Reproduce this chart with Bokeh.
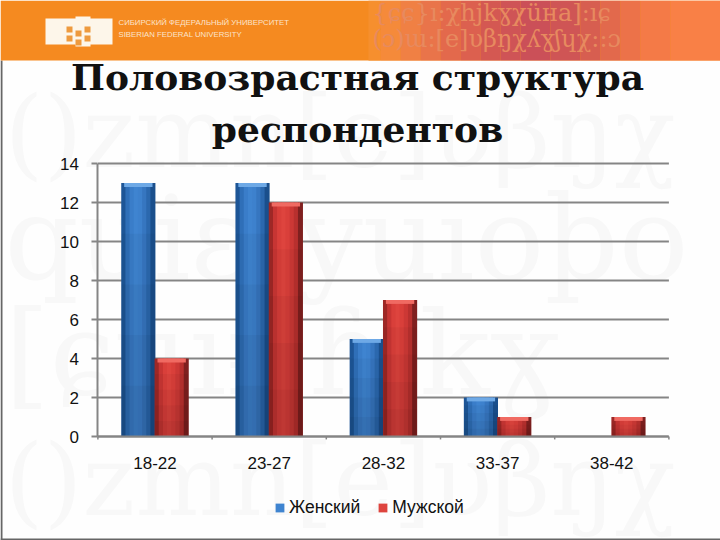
from bokeh.plotting import figure
from bokeh.models import ColumnDataSource, Label, BoxAnnotation, FixedTicker, Legend, LegendItem, Range1d, LinearAxis
from bokeh.transform import dodge
from bokeh.embed import file_html
from bokeh.resources import INLINE

categories = ["18-22", "23-27", "28-32", "33-37", "38-42"]
female = [13, 13, 5, 2, 0]
male = [4, 12, 7, 1, 1]
y_ticks = [0, 2, 4, 6, 8, 10, 12, 14]
title_lines = ["Половозрастная структура", "респондентов"]
series_names = ["Женский", "Мужской"]

W, H = 720, 540
PX_X, PX_Y = 114.2, 19.5     # pixels per category / per unit
X0, Y0 = 154.5, 436.0        # figure pixel of first category centre / of value 0
positions = list(range(len(categories)))

p = figure(width=W, height=H, x_range=Range1d(-X0 / PX_X, (W - X0) / PX_X),
           y_range=Range1d(-(H - Y0) / PX_Y, Y0 / PX_Y), output_backend="svg", toolbar_location=None,
           x_axis_type=None, y_axis_type=None,
           min_border_left=0, min_border_right=0, min_border_top=0, min_border_bottom=0)
p.outline_line_color = None
p.background_fill_color = "#fefefe"
p.border_fill_color = "white"
p.xgrid.visible = False
p.ygrid.visible = False


def lab(x, y, text, **kw):
    p.add_layout(Label(x=x, y=H - y, x_units="screen", y_units="screen", text=text, **kw))


def box(a, b, t, bt, c):
    p.add_layout(BoxAnnotation(left=a, right=b, top=H - t, bottom=H - bt, left_units="screen", right_units="screen",
                               top_units="screen", bottom_units="screen", fill_color=c, fill_alpha=1,
                               line_color=None, level="underlay"))


# watermark
for x, y, t, sz in [(4, 190, "()zmn[e]υβŋχ", 100), (4, 305, "quiɛtyuıoþo", 116),
                    (4, 420, "[ɕɥıɨ]ɦjkɣ", 116), (4, 538, "()zmn[e]υβŋχ", 100)]:
    lab(x, y, t, text_font="DejaVu Serif", text_font_size=f"{sz}px", text_color="#f8f8f8", level="underlay")

# frame edge of the slide
box(0, 2, 60, 540, "#666666")
box(0, 720, 538, 540, "#666666")

# banner
box(0, W, 0, 60, "#f58a20")
steps = [(368, 380, "#f68f2e"), (380, 400, "#f58a3a"), (400, 420, "#f08044"), (420, 440, "#e9744a"),
         (440, 460, "#e3694c"), (460, 480, "#dc604f"), (480, 500, "#d45852"), (500, 520, "#cf5456"),
         (520, 550, "#cb5058"), (550, 580, "#cf5555"), (580, 600, "#d75e50"), (600, 620, "#e2694c"),
         (620, 640, "#ec7249"), (640, 670, "#f47a47"), (670, 720, "#f98046")]
for a, b, c in steps:
    box(a, b, 0, 60, c)
lab(372, 26, "{ɕɕ}ı:χhjkɣχüнa]:ıɕ", text_font="DejaVu Serif", text_font_size="24px", text_color="#e78a5f", level="underlay")
lab(372, 52, "(ɔ)ɯ:[e]υβŋχʎɣʃɥχ::ɔ", text_font="DejaVu Serif", text_font_size="24px", text_color="#e78a5f", level="underlay")

# logo: book shape with dots
box(45, 112, 18, 44, "#fdf6ea")
box(75, 90, 16, 46, "#fdf6ea")
for dx, dy in [(66, 26), (66, 35), (75, 30), (75, 39), (84, 26), (84, 35)]:
    box(dx, dx + 6, dy, dy + 6, "#ee9a3e")
lab(118, 26, "СИБИРСКИЙ ФЕДЕРАЛЬНЫЙ УНИВЕРСИТЕТ", text_font="Liberation Sans", text_font_size="7.8px", text_color="#fbe3cb")
lab(118, 38, "SIBERIAN FEDERAL UNIVERSITY", text_font="Liberation Sans", text_font_size="7.8px", text_color="#fbe3cb")

# title
lab(357, 97, title_lines[0], text_font="DejaVu Serif", text_font_style="bold", text_font_size="36px",
    text_align="center", text_color="#111111")
lab(357, 149, title_lines[1], text_font="DejaVu Serif", text_font_style="bold", text_font_size="36px",
    text_align="center", text_color="#111111")

# grid lines and axes
GRID = "#858585"
left, right = positions[0] - 0.5, positions[-1] + 0.5
p.segment(x0=[left] * len(y_ticks), x1=[right] * len(y_ticks), y0=y_ticks, y1=y_ticks, line_color=GRID, line_width=2)
boundaries = [i - 0.5 for i in positions] + [right]
p.segment(x0=boundaries, x1=boundaries, y0=[0] * len(boundaries), y1=[-0.15] * len(boundaries), line_color=GRID, line_width=1.5)

yax = LinearAxis(fixed_location=left, bounds=(0, 14), ticker=FixedTicker(ticks=y_ticks))
xax = LinearAxis(fixed_location=0, bounds=(left, right), ticker=FixedTicker(ticks=positions),
                 major_label_overrides=dict(zip(positions, categories)))
for ax in (xax, yax):
    ax.axis_line_color = GRID
    ax.axis_line_width = 2
    ax.major_tick_line_color = GRID
    ax.major_tick_line_width = 2
    ax.major_tick_in = 0
    ax.minor_tick_line_color = None
    ax.major_label_text_font = "Liberation Sans"
    ax.major_label_text_font_size = "17px"
    ax.major_label_text_color = "#111111"
yax.major_tick_out = 6
yax.major_label_standoff = 13
xax.major_tick_out = 0
xax.major_label_standoff = 20
p.add_layout(yax, "left")
p.add_layout(xax, "below")

src = ColumnDataSource(dict(x=positions, female=female, male=male))

BAR = 0.292
blues = ["#1d5596", "#2f6fb8", "#3a7dc9", "#3f84d0", "#3d81cd", "#3676c0", "#2b68ae", "#1a4f8c"]
reds = ["#9e2826", "#c73533", "#d93f3a", "#de443e", "#d93f3a", "#cc3835", "#b8302e", "#7f201f"]
caps = {"female": "#6ea9e6", "male": "#f06a62"}
handles = {}
n = len(blues)
for key, cols, start in (("female", blues, -BAR), ("male", reds, 0)):
    for i, c in enumerate(cols):
        off = start + BAR * (i + 0.5) / n
        r = p.vbar(x=dodge("x", off), top=key, bottom=0, width=BAR / n * 1.2,
                   source=src, fill_color=c, line_color=None)
        if i == 3:
            handles[key] = r
    # darkening towards the foot of each bar
    for frac in (0.8, 0.6, 0.4, 0.2):
        src.data[f"{key}_{frac}"] = [v * frac for v in src.data[key]]
        p.vbar(x=dodge("x", start + BAR / 2), top=f"{key}_{frac}", bottom=0, width=BAR,
               source=src, fill_color="black", fill_alpha=0.035, line_color=None)
    # bevel at the top of each bar
    src.data[key + "_cap"] = [v - 0.2 if v > 0 else 0 for v in src.data[key]]
    p.vbar(x=dodge("x", start + BAR / 2), top=key, bottom=key + "_cap", width=BAR * 0.85,
           source=src, fill_color=caps[key], line_color=None)

legend = Legend(items=[LegendItem(label=series_names[0], renderers=[handles["female"]]),
                       LegendItem(label=series_names[1], renderers=[handles["male"]])],
                orientation="horizontal", location=(274, 22), background_fill_alpha=0, border_line_color=None,
                label_text_font="Liberation Sans", label_text_font_size="17.5px", label_text_color="#111111",
                glyph_width=11, glyph_height=11, spacing=17, label_standoff=4, margin=0, padding=0)
p.add_layout(legend)

open("out.html", "w").write(file_html(p, INLINE))
